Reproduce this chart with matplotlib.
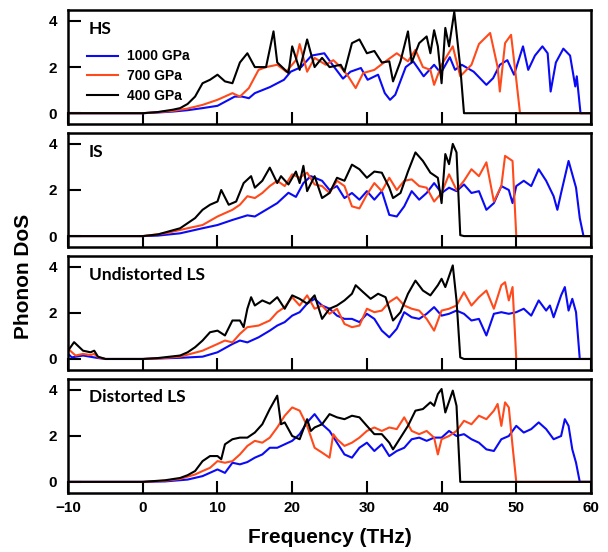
import matplotlib
matplotlib.use("Agg")
import matplotlib.pyplot as plt

# ---------------- data ----------------
series_labels = ["1000 GPa", "700 GPa", "400 GPa"]
series_colors = ["#0a0af5", "#ff4a1c", "#000000"]
panel_titles = ["HS", "IS", "Undistorted LS", "Distorted LS"]
x_ticks = [-10, 0, 10, 20, 30, 40, 50, 60]
y_ticks = [0, 2, 4]

# HS
hs_1000_f = [-10, 0, 2, 4, 6, 8, 10, 12.3, 13.3, 14.2, 15, 17, 18.9, 19.8, 21.2, 22.6, 24.3, 25.4, 26.8, 27.8, 29.2, 30.1, 31.5,
             32.4, 33.1, 33.8, 35.2, 36.2, 37.6, 39, 39.9, 41.1, 41.8, 42.7, 44.3, 46, 46.9, 47.8, 48.8, 49.7, 50.9, 51.6,
             52.5, 53.5, 54.2, 54.6, 55.3, 56.3, 57.2, 57.9, 58.1, 58.6, 60]
hs_1000_d = [0, 0, 0.03, 0.07, 0.13, 0.22, 0.32, 0.72, 0.72, 0.65, 0.87, 1.13, 1.45, 1.8, 2.0, 2.5, 2.6, 2.1, 1.5, 1.8, 1.96, 1.45, 1.67,
             0.87, 0.58, 0.8, 2.0, 2.25, 1.6, 2.1, 1.74, 2.43, 1.88, 2.1, 1.8, 1.23, 1.52, 2.1, 2.3, 1.67, 2.9, 1.88,
             2.5, 2.9, 2.6, 0.94, 2.2, 2.8, 2.5, 1.16, 1.6, 0, 0]
hs_700_f = [-10, 0, 2, 4, 6, 8, 10, 12, 13, 14.2, 15.5, 16.5, 18, 19.2, 20.5, 21, 22, 23, 24.5, 25.5, 26.5, 27.5, 28.5, 29.5,
            31, 32.5, 34, 35.5, 36.5, 37.5, 38.5, 39, 40, 41.5, 42.5, 44, 45, 46.5, 47.5, 47.8, 48.5, 49.3, 50, 50.5, 60]
hs_700_d = [0, 0, 0.04, 0.1, 0.2, 0.36, 0.58, 0.87, 0.72, 1.09, 1.88, 2.0, 2.1, 1.8, 2.3, 3.0, 1.8, 2.4, 2.1, 2.3, 2.0, 1.6, 1.09, 1.74,
            1.88, 2.25, 2.6, 2.25, 2.75, 2.0, 1.88, 1.23, 2.1, 2.9, 1.6, 2.1, 3.0, 3.48, 2.0, 0.94, 3.04, 3.4, 1.45, 0, 0]
hs_400_f = [-10, 0, 2, 3, 4, 5, 6, 7, 8, 9, 10, 11, 12, 13, 14, 15, 16.5, 17.5, 18, 19.5, 20, 21, 22, 23, 24, 25, 26.5, 27, 28,
            29, 30, 31, 32, 33, 33.5, 34.5, 35.5, 36, 37, 38, 38.5, 39, 39.5, 40, 40.5, 41, 41.7, 42, 42.5, 43, 60]
hs_400_d = [0, 0, 0.05, 0.1, 0.15, 0.22, 0.4, 0.72, 1.3, 1.45, 1.67, 1.38, 1.3, 2.2, 2.6, 2.0, 2.0, 3.55, 2.2, 1.74, 2.9, 1.88, 3.2,
            2.0, 2.4, 2.0, 2.1, 1.8, 3.04, 3.2, 2.6, 2.7, 2.2, 2.25, 1.38, 2.25, 3.55, 2.2, 3.04, 3.33, 2.6, 3.6, 2.9,
            1.3, 3.7, 2.9, 4.4, 3.5, 2.0, 0, 0]

# IS
is_1000_f = [-10, 0, 2, 5, 8, 10, 12, 14, 15, 16.5, 18, 19.5, 20.5, 21.5, 22.5, 24, 25, 26, 27, 28, 29, 30, 31, 32, 33, 34, 35,
             36, 37, 38, 39, 40, 41, 42, 43, 44, 45, 46, 47, 48, 49, 49.5, 50, 51, 52, 53, 54, 55, 55.5, 56, 57, 58,
             58.5, 59, 60]
is_1000_d = [0, 0, 0.02, 0.12, 0.34, 0.48, 0.7, 0.9, 0.85, 1.14, 1.43, 1.88, 1.7, 2.3, 2.6, 2.4, 2.0, 2.17, 1.65, 1.87, 1.58, 1.95,
             1.58, 1.95, 0.92, 0.85, 1.29, 1.95, 1.58, 1.87, 2.3, 1.87, 2.1, 1.95, 2.24, 1.87, 1.95, 1.14, 1.43, 2.17, 2.0,
             1.43, 2.17, 2.4, 2.17, 2.9, 2.4, 1.73, 1.14, 1.87, 3.26, 2.1, 0.78, 0, 0]
is_700_f = [-10, 0, 3, 6, 8, 10, 12, 13, 14, 15, 16, 17, 18, 19, 20, 21, 22, 23, 24, 25, 26, 27, 28, 29, 30, 31, 32, 33, 34,
            35, 36, 37, 38, 39, 40, 41, 42, 43, 44, 45, 46, 47, 48, 48.5, 49.5, 50, 60]
is_700_d = [0, 0, 0.12, 0.34, 0.48, 0.85, 1.14, 1.36, 1.73, 1.65, 1.87, 2.17, 2.4, 2.17, 2.68, 2.53, 2.75, 2.24, 2.17, 1.87, 2.4,
            2.17, 1.29, 1.2, 1.8, 2.3, 1.95, 2.53, 2.0, 2.4, 2.46, 2.17, 2.1, 1.5, 1.87, 2.68, 2.0, 2.4, 2.9, 2.6, 3.2,
            1.5, 2.17, 3.48, 3.26, 0, 0]
is_400_f = [-10, 0, 2, 5, 7, 8, 9, 10, 10.5, 11.5, 12.5, 13.5, 14.5, 15, 16, 17, 18, 18.5, 19.5, 20.5, 21, 21.5, 22, 23, 24,
            25, 26, 27, 28, 29, 30, 31, 32, 33, 33.5, 34.5, 35.5, 36.5, 37.5, 38.5, 39.5, 40, 40.5, 41, 41.5, 42, 42.5,
            43, 60]
is_400_d = [0, 0, 0.07, 0.34, 0.78, 1.14, 1.36, 1.5, 2.0, 1.36, 1.5, 2.3, 2.6, 2.1, 2.4, 2.97, 2.3, 2.6, 2.24, 2.8, 2.3, 3.05,
            1.95, 2.6, 1.65, 1.87, 2.53, 2.4, 3.1, 2.9, 2.53, 2.8, 2.75, 2.1, 1.65, 1.87, 2.8, 3.63, 3.26, 2.75, 2.53,
            1.43, 3.56, 3.12, 4.0, 3.63, 0.04, 0, 0]

# Undistorted LS
uls_1000_f = [-10, -9.5, -8, -6, -5, 0, 5, 8, 10, 12, 13, 14, 15.5, 17, 18, 19, 20, 21, 22, 23, 24, 25, 26, 27, 28, 29, 30,
              31, 32, 33, 34, 35, 36, 37, 38, 39, 40, 41, 42, 43, 44, 45, 46, 47, 48, 49, 50, 51, 52, 53, 54, 54.5,
              55, 56, 56.5, 57, 57.5, 58, 58.5, 60]
uls_1000_d = [0.22, 0.07, 0.15, 0.04, 0, 0, 0.05, 0.1, 0.29, 0.65, 0.8, 0.72, 0.94, 1.23, 1.45, 1.6, 1.88, 2.03, 2.4, 2.61, 2.32,
              2.18, 1.88, 1.74, 1.74, 1.6, 1.96, 1.74, 1.23, 0.94, 1.31, 2.03, 1.81, 1.74, 1.96, 2.25, 1.88, 1.96, 2.1,
              1.96, 1.67, 1.74, 1.02, 1.96, 2.03, 1.96, 2.03, 2.18, 1.88, 2.54, 2.1, 2.32, 1.81, 2.76, 3.12, 2.1, 2.61,
              2.03, 0, 0]
uls_700_f = [-10, -9, -8, -7, -6.5, -6, -5, 0, 2, 5, 8, 10, 11, 12, 13, 14, 15.5, 17, 18, 19, 20, 21, 22, 23, 24, 25, 26,
             27, 28, 29, 30, 31, 32, 33, 34, 35, 36, 37, 38, 39, 40, 41, 42, 43, 44, 45, 46, 47, 48, 48.5, 49, 49.5,
             50, 60]
uls_700_d = [0.44, 0.15, 0.22, 0.17, 0.22, 0.07, 0, 0, 0.02, 0.1, 0.36, 0.65, 0.8, 0.72, 1.09, 1.38, 1.45, 1.67, 2.03, 2.25,
             2.68, 2.32, 2.76, 2.18, 2.32, 1.96, 2.18, 1.52, 1.38, 1.45, 2.18, 2.03, 2.1, 2.47, 2.68, 2.32, 2.18, 2.1,
             1.74, 1.23, 2.1, 2.18, 2.32, 2.9, 2.32, 2.68, 2.97, 2.18, 3.2, 3.33, 2.54, 3.12, 0, 0]
uls_400_f = [-10, -9.2, -8, -7, -6.5, -6, -5, 0, 2, 5, 6, 7, 8, 9, 10, 11, 12, 13, 13.5, 14, 14.5, 15, 16, 17, 18, 19, 20,
             21, 22, 23, 24, 25, 26, 27, 28, 28.5, 29.5, 30.5, 31.5, 32.5, 33.5, 34.5, 35.5, 36.5, 37.5, 38.5, 39.5,
             40, 40.5, 41.5, 42, 42.5, 43, 60]
uls_400_d = [0.36, 0.73, 0.36, 0.29, 0.36, 0.1, 0, 0, 0.04, 0.15, 0.29, 0.51, 0.8, 1.16, 1.23, 1.02, 1.67, 1.67, 1.38, 2.18,
             2.68, 2.32, 2.54, 2.4, 2.68, 2.18, 2.76, 2.61, 2.4, 2.76, 1.74, 2.18, 2.32, 2.54, 2.83, 3.2, 2.9, 2.61, 2.83,
             2.68, 1.67, 2.03, 2.83, 3.4, 2.97, 2.76, 3.2, 3.48, 3.12, 4.06, 2.54, 0.07, 0, 0]

# Distorted LS
dls_1000_f = [-10, 0, 3, 6, 8, 10, 11, 12, 13, 14, 15, 16, 17, 18, 19, 20, 21, 22, 23, 24, 25, 26, 27, 28, 29, 30, 31, 32,
              33, 34, 35, 36, 37, 38, 39, 40, 41, 42, 43, 44, 45, 46, 47, 48, 49, 50, 51, 52, 53, 54, 55, 56, 56.5,
              57, 57.5, 58, 58.5, 60]
dls_1000_d = [0, 0, 0.02, 0.1, 0.25, 0.54, 0.39, 0.83, 0.76, 0.86, 1.05, 1.19, 1.48, 1.48, 1.63, 1.78, 2.07, 2.58, 2.94, 2.5,
              2.21, 1.7, 1.19, 1.05, 1.48, 1.7, 1.34, 1.63, 1.12, 1.34, 1.48, 1.85, 1.92, 1.78, 1.92, 1.92, 2.21, 1.99,
              2.07, 1.85, 1.7, 1.41, 1.34, 1.85, 1.99, 2.43, 2.14, 2.29, 2.58, 2.29, 1.85, 1.99, 2.72, 2.43, 1.41, 0.83,
              0, 0]
dls_700_f = [-10, 0, 3, 5, 7, 8, 9, 10, 11, 12, 13, 14, 15, 16, 17, 18, 19, 20, 21, 22, 23, 24, 25, 25.5, 26, 27, 28, 29,
             30, 31, 32, 33, 34, 35, 36, 37, 38, 39, 39.5, 40, 41, 42, 43, 44, 45, 46, 47, 47.5, 48, 48.5, 49, 49.5,
             50, 60]
dls_700_d = [0, 0, 0.05, 0.13, 0.32, 0.47, 0.61, 0.9, 0.83, 0.9, 1.19, 1.56, 1.78, 1.7, 1.92, 2.36, 2.87, 3.23, 3.09, 2.43,
             1.48, 1.27, 1.05, 2.07, 1.85, 1.56, 1.7, 1.92, 2.21, 2.36, 2.21, 2.36, 2.29, 2.8, 2.21, 2.07, 2.21, 1.92,
             1.19, 1.85, 1.99, 2.21, 2.65, 2.5, 2.87, 2.72, 3.09, 3.38, 2.43, 3.45, 3.23, 1.56, 0, 0]
dls_400_f = [-10, 0, 3, 5, 6, 7, 8, 9, 10, 10.5, 11, 12, 13, 14, 15, 16, 17, 17.5, 18, 18.5, 19, 20, 21, 22, 22.5, 23, 24,
             25, 26, 27, 28, 29, 30, 31, 32, 33, 33.5, 34.5, 35.5, 36.5, 37.5, 38.5, 39, 39.5, 40, 40.5, 41.5, 42,
             42.5, 60]
dls_400_d = [0, 0, 0.07, 0.17, 0.29, 0.47, 0.9, 1.12, 1.12, 0.98, 1.63, 1.85, 1.92, 1.92, 2.14, 2.5, 3.16, 3.45, 3.74, 2.5,
             2.58, 1.99, 1.85, 2.72, 2.21, 2.36, 2.5, 2.94, 2.8, 2.72, 2.87, 2.8, 2.43, 2.07, 2.07, 1.7, 1.41, 1.92, 2.43,
             3.09, 3.16, 3.45, 3.3, 3.81, 4.03, 3.01, 3.96, 3.3, 0, 0]

panels = [
    [(hs_1000_f, hs_1000_d), (hs_700_f, hs_700_d), (hs_400_f, hs_400_d)],
    [(is_1000_f, is_1000_d), (is_700_f, is_700_d), (is_400_f, is_400_d)],
    [(uls_1000_f, uls_1000_d), (uls_700_f, uls_700_d), (uls_400_f, uls_400_d)],
    [(dls_1000_f, dls_1000_d), (dls_700_f, dls_700_d), (dls_400_f, dls_400_d)],
]

# ---------------- figure ----------------
plt.rcParams['font.family'] = ['Liberation Sans', 'DejaVu Sans']
fig = plt.figure(figsize=(6.08, 5.52), dpi=100)
axes = fig.subplots(4, 1, sharex=True)
fig.subplots_adjust(left=0.112, right=0.972, top=0.982, bottom=0.107, hspace=0.075)

for i, ax in enumerate(axes):
    for (f, d), lab, col in zip(panels[i], series_labels, series_colors):
        ax.plot(f, d, color=col, lw=1.5, label=lab, zorder=3 if col == "#000000" else 2)
    ax.set_xlim(-10, 60)
    ax.set_ylim(-0.48, 4.48)
    ax.set_yticks(y_ticks)
    ax.set_xticks(x_ticks)
    for s in ax.spines.values():
        s.set_linewidth(1.8)
    ax.tick_params(axis='both', direction='in', length=9, width=1.5, labelsize=11)
    ax.tick_params(axis='y', pad=8)
    for t in ax.get_yticklabels():
        t.set_fontweight('bold')
    ax.text(0.04, 0.835, panel_titles[i], transform=ax.transAxes, fontsize=12.5,
            fontweight='bold', family=['Lato', 'DejaVu Sans'], va='center', ha='left')
    if i < 3:
        ax.tick_params(axis='x', labelbottom=False)

for t in axes[-1].get_xticklabels():
    t.set_fontweight('bold')
axes[-1].tick_params(axis='x', pad=6)

leg = axes[0].legend(loc='upper left', bbox_to_anchor=(0.036, 0.655), frameon=False,
                     prop={'weight': 'bold', 'size': 10}, handlelength=2.25, labelspacing=0.42,
                     handletextpad=0.63, borderaxespad=0, borderpad=0)

fig.text(0.038, 0.5, "Phonon DoS", rotation=90, fontsize=15, fontweight='bold', va='center', ha='center')
fig.text(0.542, 0.027, "Frequency (THz)", fontsize=15, fontweight='bold', va='center', ha='center')

fig.savefig("out.png", dpi=100)
